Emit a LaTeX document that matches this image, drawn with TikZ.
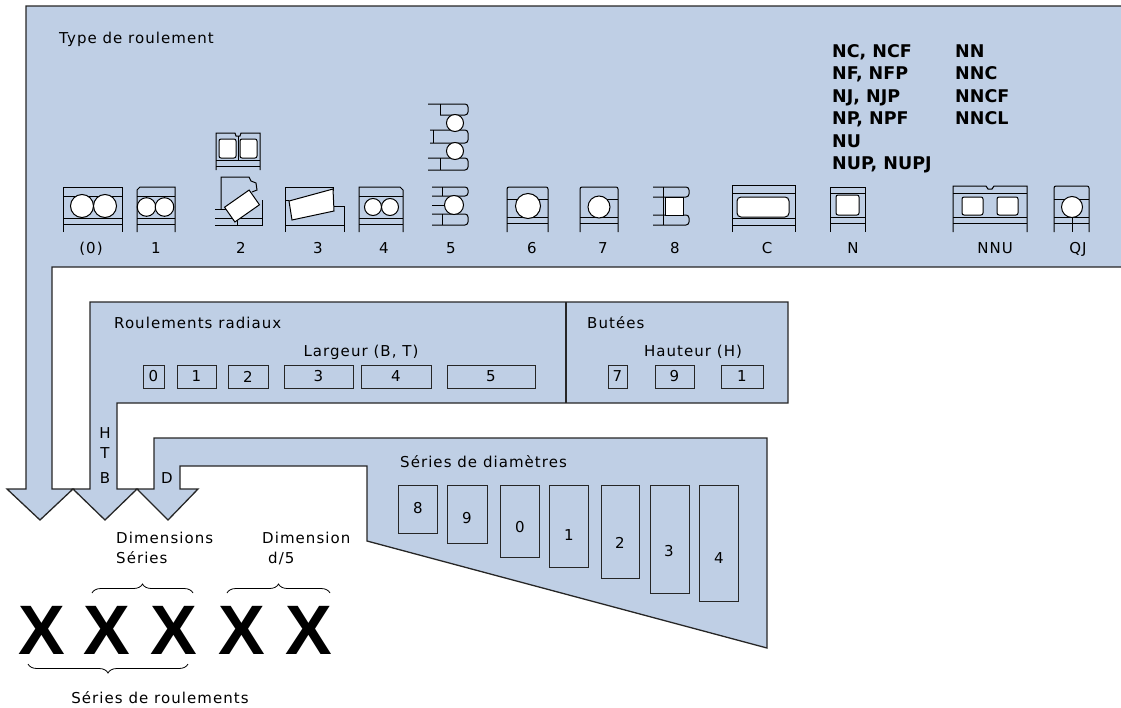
\documentclass[tikz,border=0pt]{standalone}
\usepackage{fontspec}
\setmainfont{DejaVu Sans}[LetterSpace=7]
\newfontfamily\codefont{DejaVu Sans}
\newfontfamily\xfont{Liberation Sans}
\usetikzlibrary{decorations.pathreplacing}
\definecolor{panelblue}{RGB}{191,207,229}
\tikzset{
  panel/.style={draw=black!85, line width=1.3pt, fill=panelblue},
  sizebox/.style={draw=black!85, line width=1pt, inner sep=0pt, minimum height=23pt, font=\fontsize{15}{18}\selectfont},
  ring/.style={line width=1pt},
  roller/.style={draw, fill=white, line width=1pt},
  txt/.style={inner sep=0pt, font=\fontsize{15}{18}\selectfont},
  code/.style={inner sep=0pt, anchor=base west, font=\codefont\bfseries\fontsize{17.5}{20}\selectfont},
  bigx/.style={inner sep=0pt, font=\xfont\bfseries\fontsize{70}{70}\selectfont},
  curly/.style={decorate, decoration={brace, amplitude=9pt}, line width=0.8pt},
}
\begin{document}
\begin{tikzpicture}[x=1pt,y=-1pt]
	\useasboundingbox (0,0) rectangle (1121,707);

	% the three panels with their arrows
	\draw[panel] (26,6) -- (1130,6) -- (1130,267) -- (52,267) -- (52,489) -- (73,489) -- (40,520) -- (7,489) -- (26,489) -- cycle;
	\draw[panel] (90,302) -- (788,302) -- (788,403) -- (117,403) -- (117,489) -- (137,489) -- (105,520) -- (73,489) -- (90,489) -- cycle;
	\draw[black!85, line width=1.3pt] (566,302) -- (566,403);
	\draw[panel] (154,438) -- (767,438) -- (767,648) -- (367,541) -- (367,466) -- (180,466) -- (180,489) -- (198,489) -- (168,520) -- (137,489) -- (154,489) -- cycle;

	\node[txt, anchor=base west] (typeTitle) at (59,43) {Type de roulement};

	% (0)
	\draw[ring] (63,232) -- (63,187) -- (122,187) -- (122,232);
	\draw[ring] (63,196) -- (122,196);
	\draw[ring] (63,218) -- (122,218);
	\draw[ring] (63,224) -- (122,224);
	\draw[roller] (82,206) circle[radius=11.5pt];
	\draw[roller] (105,206) circle[radius=11.5pt];

	% 1
	\draw[ring] (137,232) -- (137,190) -- (140,187) -- (175,187) -- (175,232);
	\draw[ring] (137,196) -- (175,196);
	\draw[ring] (137,218) -- (175,218);
	\draw[ring] (137,224) -- (175,224);
	\draw[roller] (146.5,207) circle[radius=9.3pt];
	\draw[roller] (164.5,207) circle[radius=9.3pt];

	% 2
	\draw[ring] (216,170) -- (216,133) -- (235,133) -- (236,136) -- (240,136) -- (241,133) -- (260,133) -- (260,170);
	\draw[ring] (216,160) -- (260,160);
	\draw[ring] (216,166) -- (260,166);
	\draw[ring] (238,136) -- (238,160);
	\draw[roller, rounded corners=2pt] (219,139) rectangle (236,158);
	\draw[roller, rounded corners=2pt] (240,139) rectangle (257,158);
	\draw[ring] (221,209) -- (221,177) -- (249,177) -- (251,181) -- (256,183) -- (257,190) -- (252,192);
	\draw[ring] (215,209) -- (233,209);
	\draw[ring] (215,218) -- (262,218);
	\draw[ring] (215,225) -- (262,225) -- (262,200);
	\draw[ring] (237,218) -- (237,225);
	\draw[roller, rotate around={35:(242,206)}] (227,197) rectangle (257,215);

	% 3
	\draw[ring] (285,232) -- (285,187) -- (333,187) -- (333,191);
	\draw[ring] (344,232) -- (344,206) -- (332,206);
	\draw[ring] (285,225) -- (344,225);
	\draw[ring] (285,200) -- (289,200);
	\draw[roller] (289,201) -- (333,189) -- (334,211) -- (292,220) -- cycle;

	% 4
	\draw[ring] (359,232) -- (359,187) -- (400,187) -- (403,190) -- (403,232);
	\draw[ring] (359,196) -- (403,196);
	\draw[ring] (359,218) -- (403,218);
	\draw[ring] (359,224) -- (403,224);
	\draw[roller] (373,207) circle[radius=8.5pt];
	\draw[roller] (390,207) circle[radius=8.5pt];

	% 5
	\draw[ring, rounded corners=3pt] (428,104) -- (468,104) -- (468,115) -- (440,115);
	\draw[ring] (440,104) -- (440,115);
	\draw[ring, rounded corners=3pt] (430,130) -- (468,130) -- (468,143) -- (430,143);
	\draw[ring] (433,130) -- (433,143);
	\draw[ring, rounded corners=3pt] (428,158) -- (468,158) -- (468,170) -- (428,170);
	\draw[ring] (440,158) -- (440,170);
	\draw[roller] (455,123) circle[radius=8.5pt];
	\draw[roller] (455,151) circle[radius=8.5pt];
	\draw[ring, rounded corners=3pt] (432,187) -- (468,187) -- (468,196) -- (432,196);
	\draw[ring] (442,187) -- (442,196);
	\draw[ring] (432,205.5) -- (446,205.5);
	\draw[ring, rounded corners=3pt] (432,214) -- (468,214) -- (468,225) -- (432,225);
	\draw[ring] (442,214) -- (442,225);
	\draw[roller] (454,205) circle[radius=9.5pt];

	% 6
	\draw[ring, rounded corners=2pt] (507,232) -- (507,187) -- (548,187) -- (548,232);
	\draw[ring] (507,199) -- (548,199);
	\draw[ring] (507,217) -- (548,217);
	\draw[ring] (507,223) -- (548,223);
	\draw[roller] (528,206) circle[radius=12.5pt];

	% 7
	\draw[ring, rounded corners=2pt] (580,232) -- (580,187) -- (618,187) -- (618,232);
	\draw[ring] (599,199) -- (618,199);
	\draw[ring] (580,217) -- (618,217);
	\draw[ring] (580,223) -- (618,223);
	\draw[roller] (599,207) circle[radius=11pt];

	% 8
	\draw[ring, rounded corners=3pt] (653,187) -- (689,187) -- (689,197) -- (653,197);
	\draw[ring, rounded corners=3pt] (653,215) -- (689,215) -- (689,225) -- (653,225);
	\draw[ring] (663,187) -- (663,225);
	\draw[roller] (665,197) rectangle (683,215);

	% C
	\draw[ring] (732,232) -- (732,185) -- (795,185) -- (795,232);
	\draw[ring] (732,193) -- (795,193);
	\draw[ring] (732,218) -- (795,218);
	\draw[ring] (732,225) -- (795,225);
	\draw[roller, rounded corners=4pt] (737,197) rectangle (789,217);

	% N
	\draw[ring] (830,232) -- (830,187) -- (865,187) -- (865,232);
	\draw[ring] (830,193) -- (865,193);
	\draw[ring] (830,217) -- (865,217);
	\draw[ring] (830,223) -- (865,223);
	\draw[roller, rounded corners=2pt] (836,195) rectangle (859,215);

	% NNU
	\draw[ring] (953,232) -- (953,186) -- (986,186) -- (988,189) -- (992,189) -- (994,186) -- (1027,186) -- (1027,232);
	\draw[ring] (953,193) -- (1027,193);
	\draw[ring] (953,217) -- (1027,217);
	\draw[ring] (953,223) -- (1027,223);
	\draw[roller, rounded corners=2pt] (962,197) rectangle (983,215);
	\draw[roller, rounded corners=2pt] (997,197) rectangle (1018,215);

	% QJ
	\draw[ring, rounded corners=2pt] (1054,232) -- (1054,186) -- (1089,186) -- (1089,232);
	\draw[ring] (1054,199) -- (1089,199);
	\draw[ring] (1054,217) -- (1089,217);
	\draw[ring] (1054,223) -- (1089,223);
	\draw[ring] (1072,217) -- (1072,232);
	\draw[roller] (1072,207) circle[radius=10.5pt];

	\node[txt, anchor=base] (tyZ) at (91,253) {(0)};
	\node[txt, anchor=base] (tyA) at (156,253) {1};
	\node[txt, anchor=base] (tyB) at (241,253) {2};
	\node[txt, anchor=base] (tyC) at (318,253) {3};
	\node[txt, anchor=base] (tyD) at (384,253) {4};
	\node[txt, anchor=base] (tyE) at (451,253) {5};
	\node[txt, anchor=base] (tyF) at (532,253) {6};
	\node[txt, anchor=base] (tyG) at (603,253) {7};
	\node[txt, anchor=base] (tyH) at (675,253) {8};
	\node[txt, anchor=base] (tyCarb) at (767,253) {C};
	\node[txt, anchor=base] (tyN) at (853,253) {N};
	\node[txt, anchor=base] (tyNNU) at (995,253) {NNU};
	\node[txt, anchor=base] (tyQJ) at (1078,253) {QJ};

	\node[code] (nA) at (832,57) {NC, NCF};
	\node[code] (nB) at (832,79.5) {NF, NFP};
	\node[code] (nC) at (832,102) {NJ, NJP};
	\node[code] (nD) at (832,124.5) {NP, NPF};
	\node[code] (nE) at (832,147) {NU};
	\node[code] (nF) at (832,169.5) {NUP, NUPJ};
	\node[code] (nnA) at (955,57) {NN};
	\node[code] (nnB) at (955,79.5) {NNC};
	\node[code] (nnC) at (955,102) {NNCF};
	\node[code] (nnD) at (955,124.5) {NNCL};

	% largeur et hauteur
	\node[txt, anchor=base west] (radialTitle) at (114,328) {Roulements radiaux};
	\node[txt, anchor=base] (widthTitle) at (361,356.5) {Largeur (B, T)};
	\node[sizebox, minimum width=21pt] (w0) at (153.5,376.5) {0};
	\node[sizebox, minimum width=39pt] (w1) at (196.5,376.5) {1};
	\node[sizebox, minimum width=40pt] (w2) at (248,376.5) {2};
	\node[sizebox, minimum width=69pt] (w3) at (318.5,376.5) {3};
	\node[sizebox, minimum width=70pt] (w4) at (396,376.5) {4};
	\node[sizebox, minimum width=88pt] (w5) at (491,376.5) {5};

	\node[txt, anchor=base west] (thrustTitle) at (587,328) {Butées};
	\node[txt, anchor=base] (heightTitle) at (693,356.5) {Hauteur (H)};
	\node[sizebox, minimum width=19pt] (h7) at (617.5,376.5) {7};
	\node[sizebox, minimum width=39pt] (h9) at (674.5,376.5) {9};
	\node[sizebox, minimum width=42pt] (h1) at (742,376.5) {1};

	\node[txt, anchor=base] (letH) at (105,438) {H};
	\node[txt, anchor=base] (letT) at (105,458) {T};
	\node[txt, anchor=base] (letB) at (105,483) {B};
	\node[txt, anchor=base] (letD) at (167,483) {D};

	% diametres
	\node[txt, anchor=base west] (diaTitle) at (400,467) {Séries de diamètres};
	\node[sizebox, anchor=north west, minimum width=39pt, minimum height=48pt] (d8) at (398,485) {};
	\node[sizebox, anchor=north west, minimum width=40pt, minimum height=58pt] (d9) at (447,485) {};
	\node[sizebox, anchor=north west, minimum width=39pt, minimum height=72pt] (d0) at (500,485) {};
	\node[sizebox, anchor=north west, minimum width=39pt, minimum height=82pt] (d1) at (549,485) {};
	\node[sizebox, anchor=north west, minimum width=38pt, minimum height=93pt] (d2) at (601,485) {};
	\node[sizebox, anchor=north west, minimum width=39pt, minimum height=108pt] (d3) at (650,485) {};
	\node[sizebox, anchor=north west, minimum width=39pt, minimum height=116pt] (d4) at (699,485) {};
	\node[txt] (d8l) at (418,508) {8};
	\node[txt] (d9l) at (467,518) {9};
	\node[txt] (d0l) at (520,527) {0};
	\node[txt] (d1l) at (569,535) {1};
	\node[txt] (d2l) at (620,543) {2};
	\node[txt] (d3l) at (669,551) {3};
	\node[txt] (d4l) at (719,558) {4};

	% designation
	\node[txt, anchor=base west] (dimA) at (116,543) {Dimensions};
	\node[txt, anchor=base west] (dimB) at (116,563) {Séries};
	\node[txt, anchor=base west] (boreA) at (262,543) {Dimension};
	\node[txt, anchor=base west] (boreB) at (268,563) {d/5};

	\draw[curly] (92,593) -- (193,593);
	\draw[curly] (227,593) -- (330,593);

	\node[bigx] (xA) at (42,630) {X};
	\node[bigx] (xB) at (107,630) {X};
	\node[bigx] (xC) at (174,630) {X};
	\node[bigx] (xD) at (242,630) {X};
	\node[bigx] (xE) at (309,630) {X};

	\draw[curly] (188,664) -- (28,664);
	\node[txt, anchor=base] (seriesTitle) at (160,703) {Séries de roulements};
\end{tikzpicture}
\end{document}
